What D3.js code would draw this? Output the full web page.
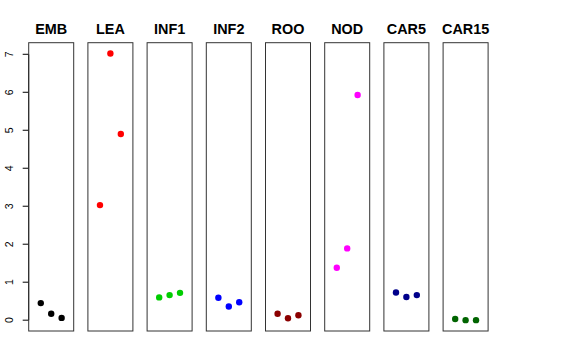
<!DOCTYPE html>
<html><head><meta charset="utf-8">
<script src="https://cdn.jsdelivr.net/npm/d3@7"></script>
<style>body{margin:0;background:#fff}svg{display:block}</style>
</head><body>
<svg id="c" width="576" height="360"></svg>
<script>
const categories = ["EMB","LEA","INF1","INF2","ROO","NOD","CAR5","CAR15"];
const colors = ["#000000","#FF0000","#00CD00","#0000FF","#8B0000","#FF00FF","#00008B","#006400"];
const valuesEMB = [0.45, 0.17, 0.06];
const valuesLEA = [3.03, 7.02, 4.90];
const valuesINF1 = [0.60, 0.66, 0.72];
const valuesINF2 = [0.59, 0.36, 0.47];
const valuesROO = [0.17, 0.05, 0.13];
const valuesNOD = [1.38, 1.89, 5.93];
const valuesCAR5 = [0.73, 0.61, 0.66];
const valuesCAR15 = [0.03, 0.0, 0.0];
const series = [valuesEMB, valuesLEA, valuesINF1, valuesINF2, valuesROO, valuesNOD, valuesCAR5, valuesCAR15];
const yTicks = [0,1,2,3,4,5,6,7];

const svg = d3.select("#c");
const panelW = 45, panelStep = 59.2, left0 = 28.7;
const plotTop = 42.7, plotBottom = 331;

const y = d3.scaleLinear().domain([-0.285, 7.305]).range([plotBottom, plotTop]);
const x = d3.scaleLinear().domain([-0.16, 4.16]).range([0, panelW]);

// y axis
const ax = svg.append("g").attr("transform", `translate(${left0},0)`);
ax.append("line").attr("x1",0).attr("x2",0).attr("y1",y(0)).attr("y2",y(7)).attr("stroke","#000");
yTicks.forEach(t => {
  ax.append("line").attr("x1",-6).attr("x2",0).attr("y1",y(t)).attr("y2",y(t)).attr("stroke","#000");
  ax.append("text").attr("transform",`translate(-19,${y(t)}) rotate(-90)`)
    .attr("text-anchor","middle").attr("dy","0.36em")
    .attr("font-family","Liberation Sans, Arial, sans-serif").attr("font-size","10.5px")
    .text(t);
});

categories.forEach((cat, i) => {
  const g = svg.append("g").attr("transform", `translate(${left0 + i*panelStep},0)`);
  g.append("rect").attr("x",0).attr("y",plotTop).attr("width",panelW).attr("height",plotBottom-plotTop)
    .attr("fill","none").attr("stroke","#333").attr("stroke-width",1);
  g.append("text").attr("x",panelW/2).attr("y",34.3).attr("text-anchor","middle")
    .attr("font-family","Liberation Sans, Arial, sans-serif").attr("font-weight","bold")
    .attr("font-size","14.4px").text(cat);
  g.selectAll("circle").data(series[i]).join("circle")
    .attr("cx",(d,j)=>x(j+1)).attr("cy",d=>y(d)).attr("r",3.2).attr("fill",colors[i]);
});
</script>
</body></html>
